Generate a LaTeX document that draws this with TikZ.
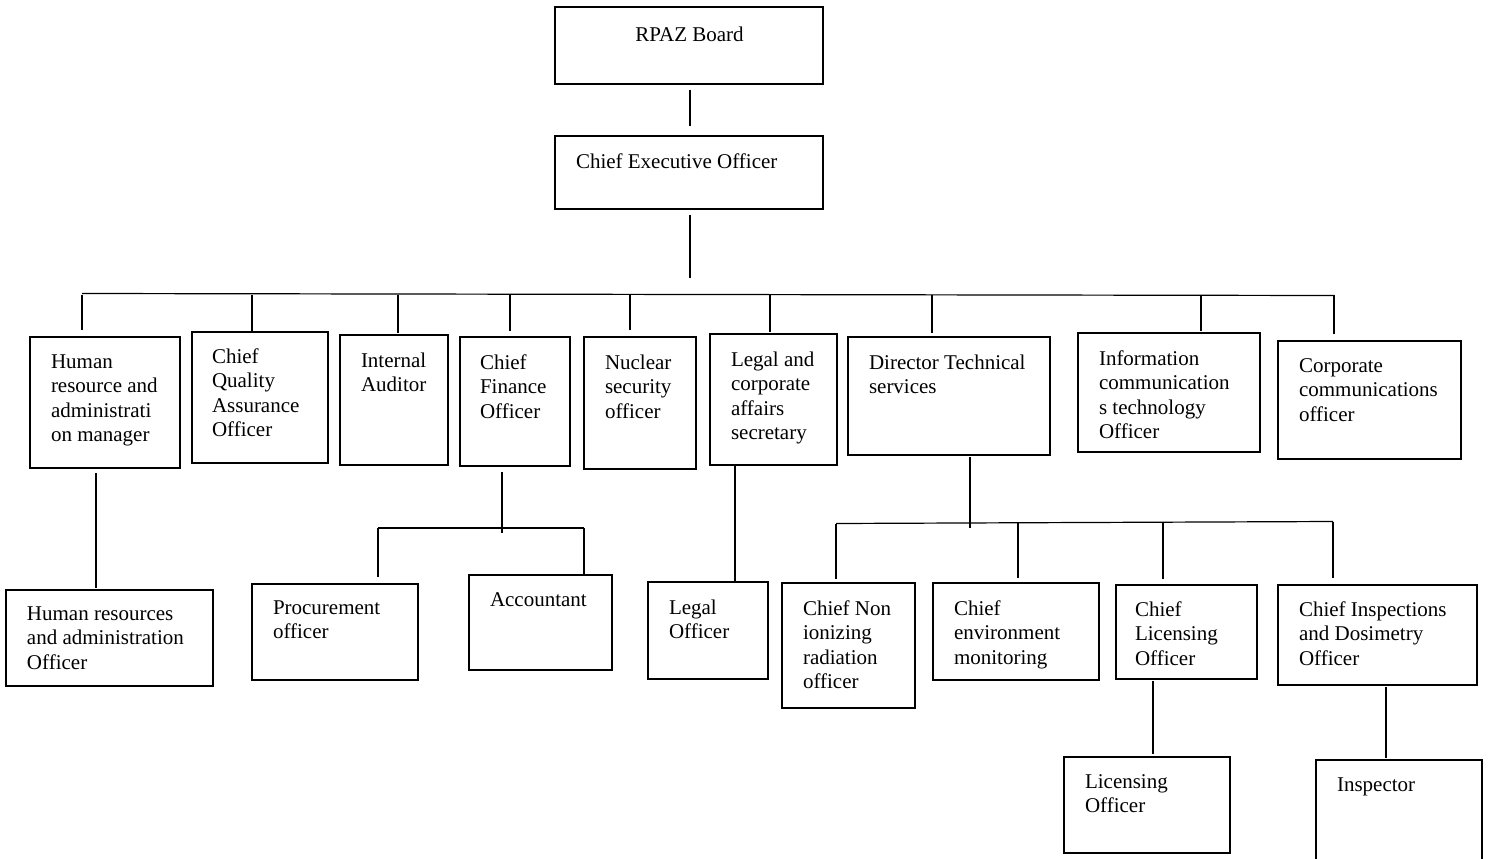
\documentclass[tikz,border=0pt]{standalone}
\usepackage{fontspec}
\setmainfont{Liberation Serif}
\newcommand{\orgbox}[5]{\node[box, minimum width={(#4-#2)*1pt}, minimum height={(#5-#3)*1pt}, anchor=north west] (#1) at (#2,#3) {};}
\begin{document}
\begin{tikzpicture}[x=1pt,y=-1pt,
  box/.style={draw, line width=1.6pt, inner sep=0pt, outer sep=0pt},
  lbl/.style={inner sep=0pt, outer sep=0pt, align=left, font=\fontsize{21}{24.5}\selectfont, yshift=-1.5pt},
  conn/.style={draw, line width=1.2pt}]
\clip (0,0) rectangle (1489,859);
\fill[white] (0,0) rectangle (1489,859);
% boxes
\orgbox{board}{555}{7}{823}{84}
\orgbox{ceo}{555}{136}{823}{209}
\orgbox{hr}{30}{337}{180}{468}
\orgbox{cqa}{192}{332}{328}{463}
\orgbox{ia}{340}{335}{448}{465}
\orgbox{cfo}{460}{337}{570}{466}
\orgbox{nso}{584}{337}{696}{469}
\orgbox{lcs}{710}{334}{837}{465}
\orgbox{dts}{848}{337}{1050}{455}
\orgbox{ict}{1078}{333}{1260}{452}
\orgbox{cco}{1278}{341}{1461}{459}
\orgbox{hro}{6}{590}{213}{686}
\orgbox{proc}{252}{584}{418}{680}
\orgbox{acc}{469}{575}{612}{670}
\orgbox{lo}{648}{582}{768}{679}
\orgbox{cnir}{782}{583}{915}{708}
\orgbox{cem}{933}{583}{1099}{680}
\orgbox{clo}{1116}{585}{1257}{679}
\orgbox{cido}{1278}{585}{1477}{685}
\orgbox{lic}{1064}{757}{1230}{853}
\orgbox{insp}{1316}{760}{1482}{890}
% texts
\node[lbl, anchor=north] (boardT) at (689.5,25) {RPAZ Board};
\node[lbl, anchor=north west] (ceoT) at (576,152) {Chief Executive Officer};
\node[lbl, anchor=north west] (hrT) at (51,353) {Human\\resource and\\administrati\\on manager};
\node[lbl, anchor=north west] (cqaT) at (212,347) {Chief\\Quality\\Assurance\\Officer};
\node[lbl, anchor=north west] (iaT) at (361,351) {Internal\\Auditor};
\node[lbl, anchor=north west] (cfoT) at (480,353) {Chief\\Finance\\Officer};
\node[lbl, anchor=north west] (nsoT) at (605,353) {Nuclear\\security\\officer};
\node[lbl, anchor=north west] (lcsT) at (731,350) {Legal and\\corporate\\affairs\\secretary};
\node[lbl, anchor=north west] (dtsT) at (869,353) {Director Technical\\services};
\node[lbl, anchor=north west] (ictT) at (1099,349) {Information\\communication\\s technology\\Officer};
\node[lbl, anchor=north west] (ccoT) at (1299,357) {Corporate\\communications\\officer};
\node[lbl, anchor=north west] (hroT) at (27,605) {Human resources\\and administration\\Officer};
\node[lbl, anchor=north west] (procT) at (273,599) {Procurement\\officer};
\node[lbl, anchor=north west] (accT) at (490,591) {Accountant};
\node[lbl, anchor=north west] (loT) at (669,598) {Legal\\Officer};
\node[lbl, anchor=north west] (cnirT) at (803,599) {Chief Non\\ionizing\\radiation\\officer};
\node[lbl, anchor=north west] (cemT) at (954,599) {Chief\\environment\\monitoring};
\node[lbl, anchor=north west] (cloT) at (1135,600) {Chief\\Licensing\\Officer};
\node[lbl, anchor=north west] (cidoT) at (1299,600) {Chief Inspections\\and Dosimetry\\Officer};
\node[lbl, anchor=north west] (licT) at (1085,773) {Licensing\\Officer};
\node[lbl, anchor=north west] (inspT) at (1337,776) {Inspector};
% connectors: top
\draw[conn, shorten <=6pt, shorten >=10pt] (board.south -| 690,0) -- (ceo.north -| 690,0);
\coordinate (busTop) at (690,294);
\draw[conn, shorten <=6pt, shorten >=16pt] (ceo.south -| busTop) -- (busTop);
\coordinate (busL) at (82,293.5);
\coordinate (busR) at (1334,295.5);
\draw[conn] (busL) -- (busR);
\foreach \n/\x/\g in {hr/82/7, cqa/252/0, ia/398/2, cfo/510/6, nso/630/7, lcs/770/2, dts/932/4, ict/1201/2, cco/1334/7}{
  \coordinate (d\n) at (\x,294.5);
  \draw[conn, shorten >=\g pt] (d\n) -- (d\n |- \n.north);
}
% HR
\coordinate (hrX) at (96,0);
\draw[conn, shorten <=5pt, shorten >=2pt] (hr.south -| hrX) -- (hro.north -| hrX);
% CFO
\coordinate (cfoBus) at (502,528);
\draw[conn, shorten <=6pt] (cfo.south -| cfoBus) -- ([yshift=-5pt]cfoBus);
\coordinate (cfoL) at (378,528);
\coordinate (cfoR) at (584,528);
\draw[conn] (cfoL) -- (cfoR);
\draw[conn, shorten >=7pt] (cfoL) -- (cfoL |- proc.north);
\draw[conn, shorten >=1pt] (cfoR) -- (cfoR |- acc.north);
% Legal
\coordinate (lX) at (735,0);
\draw[conn] (lcs.south -| lX) -- (lo.north -| lX);
% DTS
\coordinate (dtsBus) at (970,522.5);
\draw[conn, shorten <=2pt] (dts.south -| dtsBus) -- ([yshift=-5pt]dtsBus);
\coordinate (tL) at (836,523.5);
\coordinate (tR) at (1333,521.5);
\draw[conn] (tL) -- (tR);
\coordinate (tcem) at (1018,522.5);
\coordinate (tclo) at (1163,522.5);
\draw[conn, shorten >=4pt] (tL) -- (tL |- cnir.north);
\draw[conn, shorten >=5pt] (tcem) -- (tcem |- cem.north);
\draw[conn, shorten >=6pt] (tclo) -- (tclo |- clo.north);
\draw[conn, shorten >=7pt] (tR) -- (tR |- cido.north);
% bottom
\coordinate (licX) at (1153,0);
\draw[conn, shorten <=2pt, shorten >=3pt] (clo.south -| licX) -- (lic.north -| licX);
\coordinate (inX) at (1386,0);
\draw[conn, shorten <=2pt, shorten >=2pt] (cido.south -| inX) -- (insp.north -| inX);
\end{tikzpicture}
\end{document}
